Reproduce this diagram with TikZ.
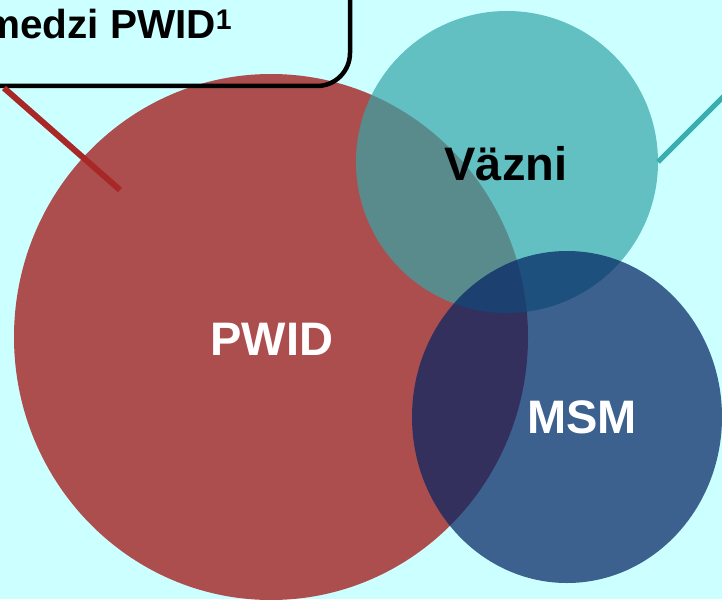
\documentclass[tikz,border=0pt]{standalone}
\usepackage{fontspec}
\setmainfont{Liberation Sans}
\usetikzlibrary{shapes.geometric}
\definecolor{bgcyan}{HTML}{CCFFFF}
\definecolor{pwidred}{HTML}{AD4E4E}
\definecolor{vazniteal}{HTML}{36A6A9}
\definecolor{msmblue}{HTML}{052565}
\definecolor{redline}{HTML}{A82828}
\definecolor{tealline}{HTML}{3AAEAF}

\begin{document}
\begin{tikzpicture}[x=1pt,y=-1pt,
    setlabel/.style={font=\fontsize{47}{50}\selectfont\bfseries},
    callout/.style={line width=6pt}]
    \fill[bgcyan] (0,0) rectangle (722,599);
    \clip (0,0) rectangle (722,599);

    % the three sets
    \fill[pwidred] (271,337) ellipse [x radius=257, y radius=263];
    \fill[vazniteal, fill opacity=0.7] (507,162) circle [radius=151];
    \fill[msmblue, fill opacity=0.72] (567,417) ellipse [x radius=155, y radius=166];

    \node[setlabel, white] (pwid) at (272,339) {PWID};
    \node[setlabel] (vazni) at (506,164) {Väzni};
    \node[setlabel, white] (msm) at (582,417) {MSM};

    % note box, cut by the page
    \draw[line width=4.5pt, rounded corners=33pt] (-60,-60) rectangle (350,86);
    \node[anchor=base west, inner sep=0pt, font=\fontsize{40.5}{42}\selectfont\bfseries]
        (note) at (-16,39) {medzi PWID\textsuperscript{1}};

    \coordinate (notefoot) at (4,88);
    \coordinate (pwidend) at (120,190);
    \coordinate (vazniend) at (658,162);
    \coordinate (rightnote) at (740,80);
    \draw[callout, redline] (notefoot) -- (pwidend);
    \draw[callout, tealline, line width=5pt] (vazniend) -- (rightnote);
\end{tikzpicture}
\end{document}
